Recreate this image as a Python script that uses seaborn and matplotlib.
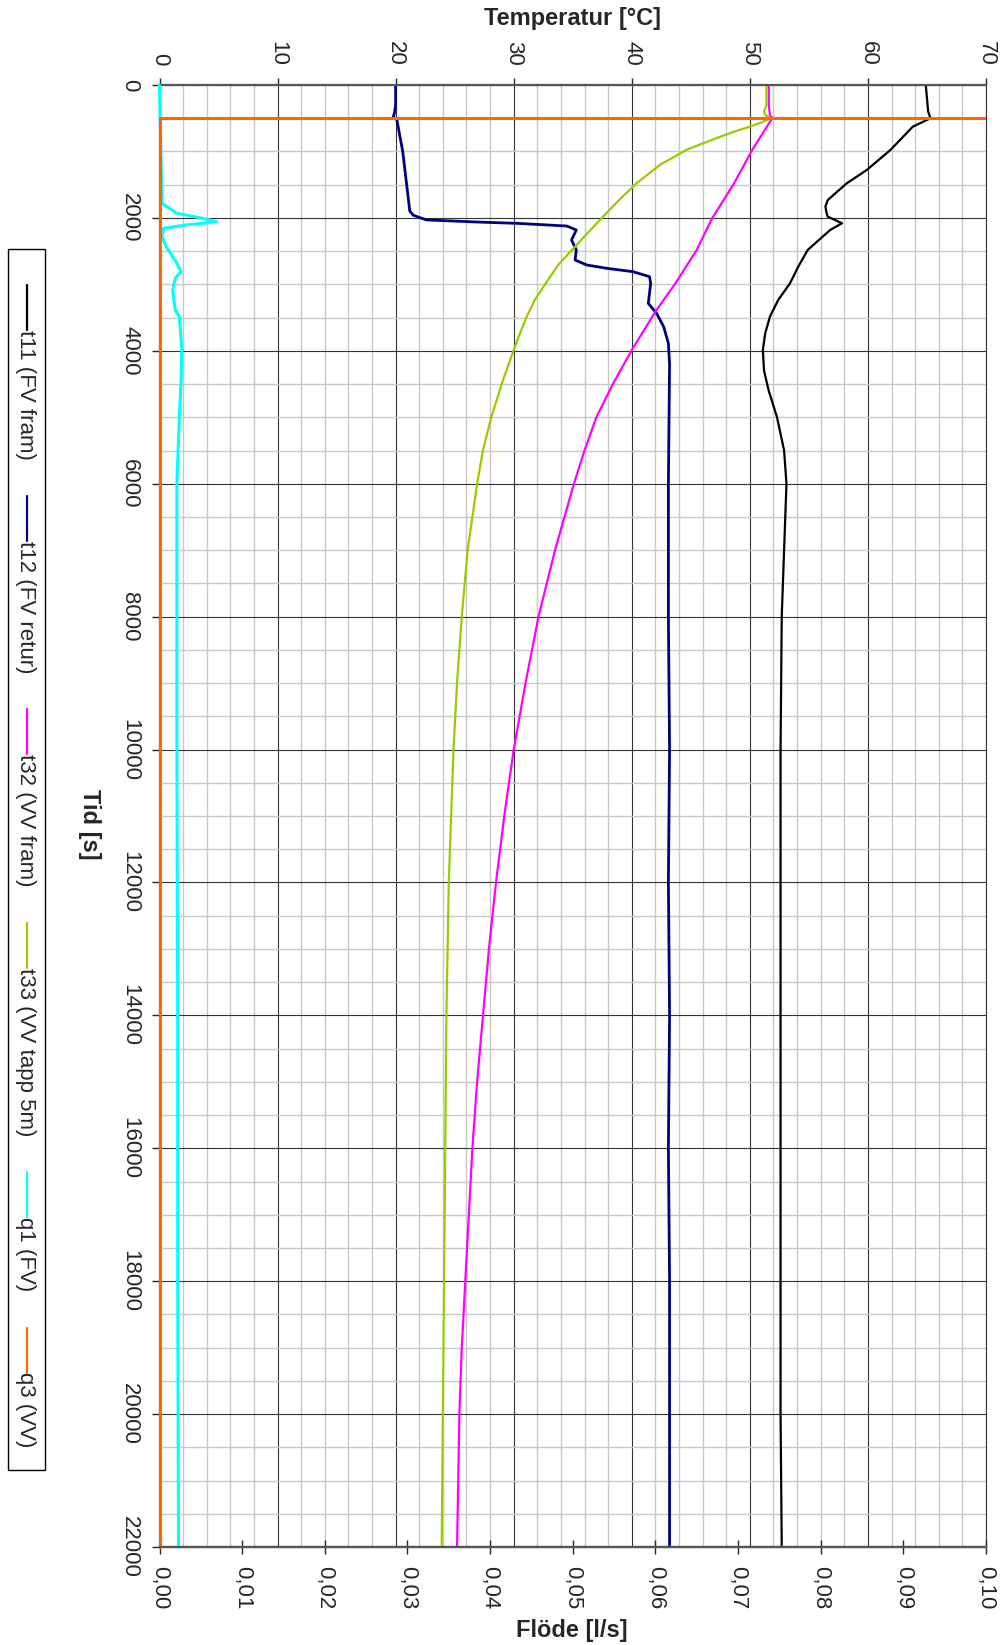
import matplotlib
matplotlib.use("Agg")
import matplotlib.pyplot as plt
import seaborn as sns
import numpy as np
from matplotlib.lines import Line2D
from matplotlib.patches import Rectangle
from matplotlib.ticker import MultipleLocator
from matplotlib.transforms import Bbox, TransformedBbox

# --- data ---
t11_time = [0, 200, 400, 500, 627, 978, 1279, 1480, 1730, 1830, 1930, 1981, 2081, 2182, 2482, 2734,
            2984, 3235, 3486, 3737, 3988, 4300, 4600, 5000, 5500, 6000, 6500, 7000, 8000, 10000,
            12000, 14000, 16000, 18000, 20000, 22000]
t11_temp = [64.9, 65.0, 65.1, 65.3, 63.8, 61.9, 59.9, 58.2, 56.6, 56.4, 56.5, 56.6, 57.8, 56.8, 54.9, 54.1,
            53.4, 52.4, 51.7, 51.3, 51.1, 51.2, 51.6, 52.3, 52.9, 53.1, 53.0, 52.9, 52.7, 52.6,
            52.6, 52.6, 52.6, 52.6, 52.6, 52.7]

t12_time = [0, 300, 420, 480, 520, 1000, 1900, 1960, 2030, 2060, 2082, 2122, 2182, 2332, 2483, 2634,
            2709, 2759, 2809, 2884, 2984, 3286, 3436, 3637, 3888, 4200, 6000, 8000, 10000, 12000,
            14000, 16000, 18000, 20000, 22000]
t12_temp = [20.0, 20.0, 19.9, 19.8, 20.1, 20.6, 21.2, 21.5, 22.6, 26.6, 30.3, 34.5, 35.3, 34.9, 35.3, 35.2,
            36.2, 37.9, 40.1, 41.5, 41.6, 41.4, 42.1, 42.7, 43.1, 43.2, 43.1, 43.1, 43.2, 43.1,
            43.2, 43.1, 43.2, 43.2, 43.2]

t32_time = [0, 300, 450, 500, 978, 1500, 2006, 2483, 2984, 3411, 3787, 3988, 4500, 5000, 5500, 6000,
            7000, 8000, 9000, 10000, 11000, 12000, 13000, 14000, 15000, 16000, 17000, 18000, 19000,
            20000, 21000, 22000]
t32_temp = [51.6, 51.6, 51.7, 51.9, 50.2, 48.6, 46.8, 45.5, 43.7, 42.0, 40.7, 40.0, 38.4, 37.0, 36.0, 35.1,
            33.5, 32.1, 31.0, 30.0, 29.2, 28.5, 27.9, 27.4, 26.9, 26.5, 26.2, 25.9, 25.6,
            25.4, 25.3, 25.2]

t33_time = [0, 300, 400, 450, 500, 560, 627, 700, 778, 880, 978, 1200, 1480, 1700, 1955, 2200, 2432,
            2700, 2985, 3230, 3486, 3750, 3988, 4489, 5000, 5493, 6000, 7000, 8000, 9000, 10000, 12000,
            14000, 16000, 18000, 20000, 22000]
t33_temp = [51.4, 51.4, 51.2, 51.3, 51.8, 51.0, 50.0, 48.7, 47.5, 46.0, 44.6, 42.4, 40.4, 39.1, 37.7, 36.4, 35.2,
            33.8, 32.7, 31.8, 31.1, 30.5, 30.0, 29.0, 28.1, 27.4, 26.9, 26.1, 25.6, 25.2, 24.9, 24.5,
            24.3, 24.2, 24.1, 24.0, 23.9]

q1_time = [0, 1780, 1930, 2000, 2057, 2110, 2157, 2282, 2432, 2683, 2809, 2909, 3085, 3386, 3486,
           3988, 4490, 4991, 5990, 8000, 10000, 14000, 18000, 22000]
q1_flow = [0, 0.0003, 0.0021, 0.0050, 0.0069, 0.0030, 0.0005, 0.0003, 0.0008, 0.0021, 0.0026, 0.0019,
           0.0016, 0.0019, 0.0024, 0.0027, 0.0026, 0.0024, 0.0021, 0.0021, 0.0021, 0.0022, 0.0022, 0.0023]

# q3 is off scale (above 0,10) until ~500 s, then 0
q3_time = [0, 500, 500, 22000]
q3_flow = [0.25, 0.25, 0.0, 0.0]

series_labels = ["t11 (FV fram)", "t12 (FV retur)", "t32 (VV fram)", "t33 (VV tapp 5m)", "q1 (FV)", "q3 (VV)"]
series_colors = ["#000000", "#000080", "#ff00ff", "#99cc00", "#00ffff", "#ff6600"]

temp_ticks = list(range(0, 71, 10))
time_ticks = list(range(0, 22001, 2000))
flow_ticks = [0.00, 0.01, 0.02, 0.03, 0.04, 0.05, 0.06, 0.07, 0.08, 0.09, 0.10]

sns.set_style("white")
plt.rcParams['font.family'] = ['Liberation Sans', 'DejaVu Sans']

W, H = 1001, 1645
fig = plt.figure(figsize=(W / 100, H / 100), dpi=100)
left, right, top, bottom = 159.5, 986, 85, 1547
ax = fig.add_axes([left / W, 1 - bottom / H, (right - left) / W, (bottom - top) / H])
ax2 = ax.twiny()

# temperature series
for tt, vv, col, lw in [(t11_time, t11_temp, series_colors[0], 1.6),
                        (t12_time, t12_temp, series_colors[1], 2.0),
                        (t32_time, t32_temp, series_colors[2], 1.6),
                        (t33_time, t33_temp, series_colors[3], 1.6)]:
    sns.lineplot(x=vv, y=tt, ax=ax, color=col, lw=lw, sort=False, estimator=None)

# flow series
sns.lineplot(x=q1_flow, y=q1_time, ax=ax2, color=series_colors[4], lw=2.2, sort=False, estimator=None)
sns.lineplot(x=q3_flow, y=q3_time, ax=ax2, color=series_colors[5], lw=2.2, sort=False, estimator=None)

ax.set_xlim(0, 70)
ax.set_ylim(22000, 0)
ax2.set_xlim(0, 0.10)

# clip flow lines a little outside the left edge so the 0-line is fully visible
clip = TransformedBbox(Bbox([[-0.01, -0.002], [1.0, 1.002]]), ax2.transAxes)
for ln in ax2.get_lines():
    ln.set_clip_box(clip)

# grid
ax.set_xticks(temp_ticks)
ax.xaxis.set_minor_locator(MultipleLocator(2))
ax.set_yticks(time_ticks)
ax.yaxis.set_minor_locator(MultipleLocator(500))
ax.set_axisbelow(True)
ax.grid(which='minor', color='#c8c8c8', lw=1.0)
ax.grid(which='major', color='#333333', lw=0.8)
ax2.grid(False)

ax.xaxis.set_ticks_position('top')
ax.tick_params(axis='x', which='major', direction='out', length=5, width=1, pad=9,
               labelsize=16, labelrotation=-90, top=True, bottom=False)
ax.tick_params(axis='y', which='major', direction='out', length=6, width=1, pad=8,
               labelsize=16, labelrotation=-90, left=True)
ax.tick_params(which='minor', length=0)
ax.set_xticklabels([str(v) for v in temp_ticks])
ax.set_yticklabels([str(v) for v in time_ticks])
for lab in ax.get_yticklabels():
    lab.set_va('center')

ax2.set_xticks(flow_ticks)
ax2.set_xticklabels([f"{v:.2f}".replace('.', ',') for v in flow_ticks])
ax2.xaxis.set_ticks_position('bottom')
ax2.tick_params(axis='x', direction='inout', length=10, width=1, pad=9, labelsize=16,
                labelrotation=-90, bottom=True, top=False)
for lab in ax2.get_xticklabels():
    lab.set_va('top')

for sp in ['top', 'bottom', 'left']:
    ax.spines[sp].set_color('#555555')
    ax.spines[sp].set_linewidth(1.6)
ax.spines['right'].set_color('#333333')
ax.spines['right'].set_linewidth(0.8)
for sp in ax2.spines.values():
    sp.set_visible(False)
ax2.spines['bottom'].set_visible(True)
ax2.spines['bottom'].set_color('#555555')
ax2.spines['bottom'].set_linewidth(1.6)

ax.set_xlabel('')
ax.set_ylabel('')
ax2.set_xlabel('')

# axis titles
fig.text(573 / W, 1 - 19 / H, "Temperatur [°C]", ha='center', va='center',
         fontsize=17, fontweight='bold')
fig.text(89 / W, 1 - 824 / H, "Tid [s]", ha='center', va='center', rotation=-90,
         fontsize=17, fontweight='bold')
fig.text(572 / W, 1 - 1630 / H, "Flöde [l/s]", ha='center', va='center',
         fontsize=17, fontweight='bold')

# legend, drawn vertically like the rotated original
fig.add_artist(Rectangle((8 / W, 1 - 1470 / H), 37 / W, 1221 / H, transform=fig.transFigure,
                         facecolor='white', edgecolor='black', lw=1.0))
renderer = fig.canvas.get_renderer()
y = 285
for lab, col in zip(series_labels, series_colors):
    fig.add_artist(Line2D([27 / W, 27 / W], [1 - y / H, 1 - (y + 45) / H], color=col, lw=1.6,
                          transform=fig.transFigure))
    txt = fig.text(25 / W, 1 - (y + 45) / H, lab, rotation=-90, ha='center', va='top', fontsize=16)
    ext = txt.get_window_extent(renderer)
    y = y + 45 + ext.height + 36

fig.savefig("out.png", dpi=100)
